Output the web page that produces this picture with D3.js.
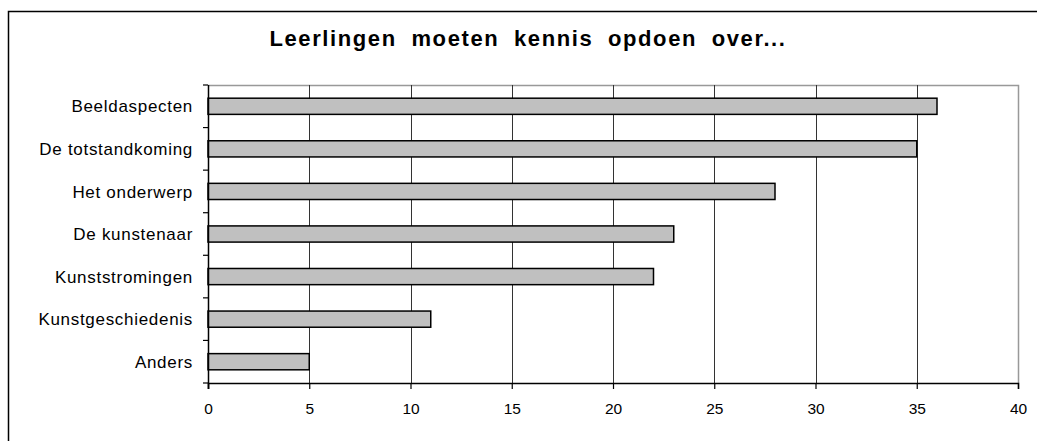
<!DOCTYPE html>
<html>
<head>
<meta charset="utf-8">
<script src="https://cdn.jsdelivr.net/npm/d3@7"></script>
<style>
  body { margin: 0; background: #fff; }
  svg { display: block; }
</style>
</head>
<body>
<div id="chart"></div>
<script>
// Horizontal bar chart — what pupils should learn about

const title = 'Leerlingen moeten kennis opdoen over...';
const categories = ['Beeldaspecten', 'De totstandkoming', 'Het onderwerp', 'De kunstenaar',
                    'Kunststromingen', 'Kunstgeschiedenis', 'Anders'];
const values = [36, 35, 28, 23, 22, 11, 5];
const xTicks = [0, 5, 10, 15, 20, 25, 30, 35, 40];

const W = 1037, H = 441;
const plot = { left: 208, top: 85, right: 1018, bottom: 383 };
const FONT = 'Liberation Sans, Arial, sans-serif';

const svg = d3.select('#chart').append('svg')
  .attr('width', W).attr('height', H);

// outer chart border (right/bottom fall off the picture)
svg.append('rect')
  .attr('x', 8.5).attr('y', 11.5)
  .attr('width', W + 20).attr('height', H + 20)
  .attr('fill', 'none')
  .attr('stroke', '#000')
  .attr('stroke-width', 1.5);

svg.append('text')
  .attr('x', 528).attr('y', 46)
  .attr('text-anchor', 'middle')
  .attr('font-family', FONT)
  .attr('font-size', 22)
  .attr('font-weight', 'bold')
  .attr('letter-spacing', 1.6)
  .attr('word-spacing', 7)
  .attr('fill', '#000')
  .text(title);

const x = d3.scaleLinear().domain([0, 40]).range([plot.left, plot.right]);
const y = d3.scaleBand().domain(categories).range([plot.top, plot.bottom]).paddingInner(0.62).paddingOuter(0.31);

const g = svg.append('g');

// plot frame, gray top/right
g.append('path')
  .attr('d', `M${plot.left},${plot.top + 0.5}H${plot.right + 0.5}V${plot.bottom}`)
  .attr('fill', 'none')
  .attr('stroke', '#999')
  .attr('stroke-width', 1.5);

// vertical gridlines
g.selectAll('.grid')
  .data(xTicks.filter(t => t > 0 && t < 40))
  .join('line')
  .attr('x1', d => Math.round(x(d)) + 0.5).attr('x2', d => Math.round(x(d)) + 0.5)
  .attr('y1', plot.top).attr('y2', plot.bottom)
  .attr('stroke', '#333')
  .attr('stroke-width', 1);

// bars
g.selectAll('.bar')
  .data(values)
  .join('rect')
  .attr('x', x(0))
  .attr('y', (d, i) => y(categories[i]))
  .attr('width', d => x(d) - x(0))
  .attr('height', y.bandwidth())
  .attr('fill', '#c0c0c0')
  .attr('stroke', '#000')
  .attr('stroke-width', 1.5);

// x axis
const xAxis = g.append('g')
  .attr('transform', `translate(0,${plot.bottom})`)
  .call(d3.axisBottom(x).tickValues(xTicks).tickSize(6).tickPadding(14));
xAxis.select('.domain').attr('stroke-width', 1.5);
xAxis.selectAll('.tick line').attr('stroke-width', 1.2);
xAxis.selectAll('text')
  .attr('font-family', FONT)
  .attr('font-size', 15.5)
  .attr('fill', '#000');

// y axis: ticks sit on the band boundaries
const yAxis = g.append('g').attr('transform', `translate(${plot.left},0)`);
yAxis.append('line')
  .attr('x1', 0.5).attr('x2', 0.5)
  .attr('y1', plot.top).attr('y2', plot.bottom + 6)
  .attr('stroke', '#000').attr('stroke-width', 1.5);

const step = (plot.bottom - plot.top) / categories.length;
yAxis.selectAll('.ytick')
  .data(d3.range(categories.length + 1))
  .join('line')
  .attr('x1', -5).attr('x2', 0)
  .attr('y1', i => plot.top + i * step).attr('y2', i => plot.top + i * step)
  .attr('stroke', '#000').attr('stroke-width', 1.2);

yAxis.selectAll('.ylabel')
  .data(categories)
  .join('text')
  .attr('x', -15)
  .attr('y', d => y(d) + y.bandwidth() / 2)
  .attr('dy', '0.36em')
  .attr('text-anchor', 'end')
  .attr('font-family', FONT)
  .attr('font-size', 17)
  .attr('letter-spacing', 0.7)
  .attr('fill', '#000')
  .text(d => d);
</script>
</body>
</html>
